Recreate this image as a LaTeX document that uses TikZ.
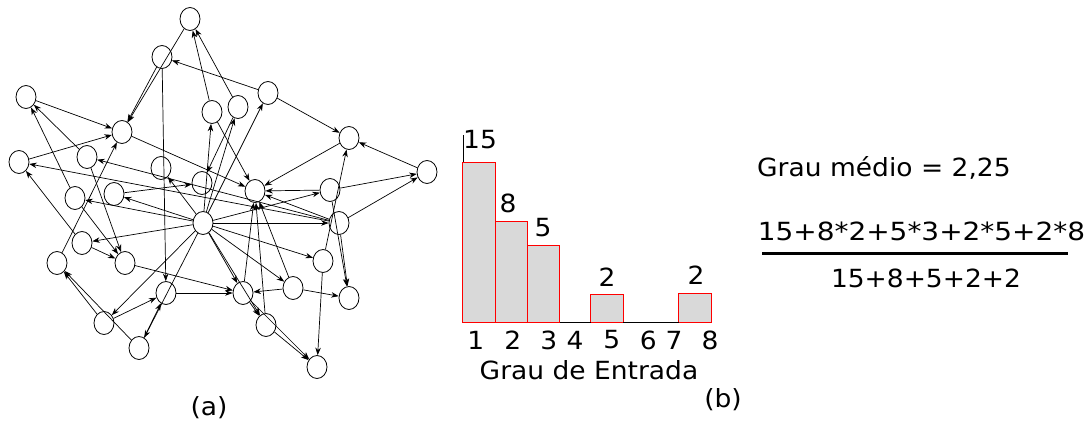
\documentclass[tikz,border=0pt]{standalone}
\usepackage{graphicx}
\usepackage{fontspec}
\setmainfont[FakeStretch=1.06]{DejaVu Sans}
\usetikzlibrary{shapes.geometric,arrows.meta}

\begin{document}
\begin{tikzpicture}[x=1pt,y=-1pt,
  vtx/.style={draw,ellipse,minimum width=20pt,minimum height=23pt,inner sep=0pt,line width=0.8pt},
  arc/.style={-{Stealth[length=7.5pt,width=5.5pt]},line width=0.7pt},
  bar/.style={draw=red,fill=black!15,line width=0.8pt},
  lbl/.style={font=\fontsize{25}{30}\selectfont,inner sep=0pt}]
\useasboundingbox (0,0) rectangle (1089,423);

% ---- vertices of the network (a)
\foreach \n/\x/\y in {A/190/19, B/162/57, C/26/97, D/122/132, E/212/112, F/238/107,
  G/268/93, H/349/138, I/427/172, M/19/162, N/87/157, O/161/168, P/202/183,
  J/255/191, K/330/190, L/339/223, Q/203/223, R/75/198, S/114/194, T/82/243,
  V/57/263, U/125/263, W/166/293, X/104/323, Y/139/348, AC/243/293, AD/266/325,
  AB/293/288, Z/323/261, AA/349/298, AE/317/367}
  \node[vtx] (\n) at (\x,\y) {};

% ---- directed links
\foreach \a/\b in {A/D, B/D, G/B, E/A, F/A, C/D, M/D, V/D, N/C, R/C, T/M, L/M, L/N,
  D/J, E/J, H/J, K/J, L/J, AB/J, AC/J, AD/J, Q/E, F/P, S/P, Q/F, Q/G, G/H, I/H,
  K/I, L/I, Z/H, Q/K, Q/L, K/AA, L/AA, Q/Z, Z/AE, Q/AB, AB/AC, AB/AA, Q/AC, Q/AD,
  AC/AD, AC/AE, AD/AE, U/AC, W/AC, X/W, Y/W, Q/Y, Q/X, X/V, Y/V, T/U, R/U, N/U,
  Q/R, Q/S, Q/T, Q/O, B/W}
  \draw[arc] (\a) -- (\b);

\node[lbl] (capa) at (209,408) {(a)};

% ---- in-degree histogram (b)
\draw[bar] (462.7,322.7) rectangle (495,162.3);
\draw[bar] (495,322.7) rectangle (527.3,221.7);
\draw[bar] (527.3,322.7) rectangle (559.7,245);
\draw[bar] (590.7,322.7) rectangle (623.3,294.3);
\draw[bar] (678.7,322.7) rectangle (711,293.3);
\draw[line width=0.8pt] (559.7,322.7) -- (590.7,322.7) (623.3,322.7) -- (678.7,322.7);
\draw[line width=0.8pt] (463.5,135) -- (463.5,162.3);

\node[lbl] (v1) at (480,140) {15};
\node[lbl] (v2) at (508,203) {8};
\node[lbl] (v3) at (543,228) {5};
\node[lbl] (v5) at (607,277) {2};
\node[lbl] (v8) at (696,275) {2};

\foreach \t/\x in {1/475.7, 2/512.7, 3/548.7, 4/575, 5/611.7, 6/648.3, 7/674, 8/710}
  \node[lbl] (t\t) at (\x,340) {\t};
\node[lbl] (xlab) at (589,370) {Grau de Entrada};
\node[lbl] (capb) at (723,400) {(b)};

% ---- mean degree
\node[lbl,anchor=west] (mean) at (757,168) {Grau médio = 2,25};
\node[lbl] (num) at (921.5,231) {\scalebox{1.055}[1]{15+8*2+5*3+2*5+2*8}};
\node[lbl] (den) at (926,278) {15+8+5+2+2};
\draw[line width=3.5pt] (762,253.5) -- (1068,253.5);
\end{tikzpicture}
\end{document}
